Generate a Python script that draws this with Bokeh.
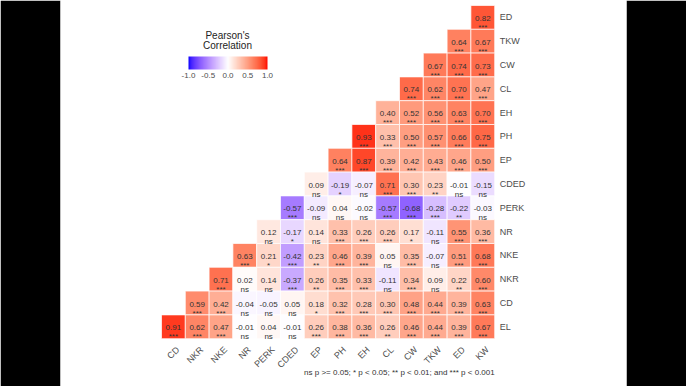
import math
import numpy as np
from bokeh.plotting import figure
from bokeh.models import (ColumnDataSource, LinearColorMapper, ColorBar, FixedTicker,
                          PrintfTickFormatter, Label, Range1d)
from bokeh.embed import file_html
from bokeh.resources import INLINE
from bokeh.core.properties import value

# ---------------- data ----------------
col_vars = ["CD", "NKR", "NKE", "NR", "PERK", "CDED", "EP", "PH", "EH", "CL", "CW", "TKW", "ED", "KW"]
row_vars = ["ED", "TKW", "CW", "CL", "EH", "PH", "EP", "CDED", "PERK", "NR", "NKE", "NKR", "CD", "EL"]  # top -> bottom

# each row lists its values left->right over the last len(values) columns
r_ED = [0.82]
s_ED = ["***"]
r_TKW = [0.64, 0.67]
s_TKW = ["***", "***"]
r_CW = [0.67, 0.74, 0.73]
s_CW = ["***", "***", "***"]
r_CL = [0.74, 0.62, 0.70, 0.47]
s_CL = ["***", "***", "***", "***"]
r_EH = [0.40, 0.52, 0.56, 0.63, 0.70]
s_EH = ["***", "***", "***", "***", "***"]
r_PH = [0.93, 0.33, 0.50, 0.57, 0.66, 0.75]
s_PH = ["***", "***", "***", "***", "***", "***"]
r_EP = [0.64, 0.87, 0.39, 0.42, 0.43, 0.46, 0.50]
s_EP = ["***", "***", "***", "***", "***", "***", "***"]
r_CDED = [0.09, -0.19, -0.07, 0.71, 0.30, 0.23, -0.01, -0.15]
s_CDED = ["ns", "*", "ns", "***", "***", "**", "ns", "ns"]
r_PERK = [-0.57, -0.09, 0.04, -0.02, -0.57, -0.68, -0.28, -0.22, -0.03]
s_PERK = ["***", "ns", "ns", "ns", "***", "***", "***", "**", "ns"]
r_NR = [0.12, -0.17, 0.14, 0.33, 0.26, 0.26, 0.17, -0.11, 0.55, 0.36]
s_NR = ["ns", "*", "ns", "***", "***", "***", "*", "ns", "***", "***"]
r_NKE = [0.63, 0.21, -0.42, 0.23, 0.46, 0.39, 0.05, 0.35, -0.07, 0.51, 0.68]
s_NKE = ["***", "*", "***", "**", "***", "***", "ns", "***", "ns", "***", "***"]
r_NKR = [0.71, 0.02, 0.14, -0.37, 0.26, 0.35, 0.33, -0.11, 0.34, 0.09, 0.22, 0.60]
s_NKR = ["***", "ns", "ns", "***", "**", "***", "***", "ns", "***", "ns", "**", "***"]
r_CD = [0.59, 0.42, -0.04, -0.05, 0.05, 0.18, 0.32, 0.28, 0.30, 0.48, 0.44, 0.39, 0.63]
s_CD = ["***", "***", "ns", "ns", "ns", "*", "***", "***", "***", "***", "***", "***", "***"]
r_EL = [0.91, 0.62, 0.47, -0.01, 0.04, -0.01, 0.26, 0.38, 0.36, 0.26, 0.46, 0.44, 0.39, 0.67]
s_EL = ["***", "***", "***", "ns", "ns", "ns", "***", "***", "***", "**", "***", "***", "***", "***"]

row_values = {"ED": r_ED, "TKW": r_TKW, "CW": r_CW, "CL": r_CL, "EH": r_EH, "PH": r_PH, "EP": r_EP,
              "CDED": r_CDED, "PERK": r_PERK, "NR": r_NR, "NKE": r_NKE, "NKR": r_NKR, "CD": r_CD, "EL": r_EL}
row_sig = {"ED": s_ED, "TKW": s_TKW, "CW": s_CW, "CL": s_CL, "EH": s_EH, "PH": s_PH, "EP": s_EP,
           "CDED": s_CDED, "PERK": s_PERK, "NR": s_NR, "NKE": s_NKE, "NKR": s_NKR, "CD": s_CD, "EL": s_EL}

cbar_ticks = [-1.0, -0.5, 0.0, 0.5, 1.0]
legend_title = ["Pearson's", "Correlation"]
footnote = "ns p >= 0.05; * p < 0.05; ** p < 0.01; and *** p < 0.001"

# ---------------- colour (Lab interpolation like ggplot gradient2) ----------------
_M = np.array([[0.4124564, 0.3575761, 0.1804375],
               [0.2126729, 0.7151522, 0.0721750],
               [0.0193339, 0.1191920, 0.9503041]])
_W = np.array([0.95047, 1.0, 1.08883])
_d = 6 / 29


def hex_to_lab(h):
    rgb = np.array([int(h[i:i + 2], 16) for i in (1, 3, 5)]) / 255.0
    lin = np.where(rgb <= 0.04045, rgb / 12.92, ((rgb + 0.055) / 1.055) ** 2.4)
    xyz = _M @ lin / _W
    f = np.where(xyz > _d ** 3, np.cbrt(xyz), xyz / (3 * _d ** 2) + 4 / 29)
    return np.array([116 * f[1] - 16, 500 * (f[0] - f[1]), 200 * (f[1] - f[2])])


def lab_to_hex(lab):
    L, a, b = lab
    fy = (L + 16) / 116
    f = np.array([fy + a / 500, fy, fy - b / 200])
    xyz = np.where(f > _d, f ** 3, 3 * _d ** 2 * (f - 4 / 29)) * _W
    lin = np.clip(np.linalg.solve(_M, xyz), 0, 1)
    rgb = np.where(lin <= 0.0031308, 12.92 * lin, 1.055 * lin ** (1 / 2.4) - 0.055)
    rgb = np.clip(np.round(rgb * 255), 0, 255).astype(int)
    return "#%02x%02x%02x" % tuple(rgb)


LAB_LOW, LAB_MID, LAB_HIGH = hex_to_lab("#0000ff"), hex_to_lab("#ffffff"), hex_to_lab("#ff0000")


def corr_color(v):
    if v >= 0:
        return lab_to_hex(LAB_MID + (LAB_HIGH - LAB_MID) * v)
    return lab_to_hex(LAB_MID + (LAB_LOW - LAB_MID) * (-v))


# ---------------- table of cells ----------------
ncol, nrow = len(col_vars), len(row_vars)
xs, ys, labs, sigs, cols = [], [], [], [], []
for rname in row_vars:
    rv, rs = row_values[rname], row_sig[rname]
    start = ncol - len(rv)
    for k, (v, s) in enumerate(zip(rv, rs)):
        xs.append(start + k + 0.5)
        ys.append(nrow - 1 - row_vars.index(rname) + 0.5)
        labs.append(f"{v:.2f}")
        sigs.append(s)
        cols.append(corr_color(v))
src = ColumnDataSource(dict(x=xs, y=ys, lab=labs, sig=sigs, color=cols))

xlab_src = ColumnDataSource(dict(x=[i + 0.5 for i in range(ncol)], y=[0] * ncol, t=col_vars))
ylab_src = ColumnDataSource(dict(x=[ncol] * nrow, y=[nrow - 1 - i + 0.5 for i in range(nrow)], t=row_vars))

# ---------------- layout (pixels) ----------------
W, H = 686, 386
LEFT_BAR, RIGHT_BAR = 60, 60
FRAME_W, FRAME_H = W - LEFT_BAR - RIGHT_BAR, H
CELL = 23.8
GRID_LEFT, GRID_TOP = 101, 5
x_start = -GRID_LEFT / CELL
y_end = nrow + GRID_TOP / CELL

FONT = "Liberation Sans"

p = figure(width=W, height=H,
           x_range=Range1d(x_start, x_start + FRAME_W / CELL),
           y_range=Range1d(y_end - FRAME_H / CELL, y_end),
           x_axis_location=None, y_axis_location=None,
           min_border_left=LEFT_BAR, min_border_right=RIGHT_BAR, min_border_top=0, min_border_bottom=0,
           toolbar_location=None, output_backend="svg",
           background_fill_color="white", border_fill_color="black", outline_line_color=None)
p.grid.visible = False

p.rect(x="x", y="y", width=1, height=1, source=src, fill_color="color",
       line_color="white", line_width=0.7)
p.text(x="x", y="y", text="lab", source=src, text_font=value(FONT), text_font_size="8px",
       text_color="#333333", text_align="center", text_baseline="alphabetic", y_offset=1)
p.text(x="x", y="y", text="sig", source=src, text_font=value(FONT), text_font_size="8px",
       text_color="#333333", text_align="center", text_baseline="alphabetic", y_offset=10)

# axis labels
p.text(x="x", y="y", text="t", source=ylab_src, text_font=value(FONT), text_font_size="9px",
       text_color="#4d4d4d", text_align="left", text_baseline="middle", x_offset=5)
p.text(x="x", y="y", text="t", source=xlab_src, text_font=value(FONT), text_font_size="9px",
       text_color="#4d4d4d", text_align="right", text_baseline="top", angle=math.pi / 4,
       x_offset=1, y_offset=6)

# colour bar legend (screen coords measured from the frame's bottom-left)
mapper = LinearColorMapper(palette=[corr_color(t) for t in np.linspace(-1, 1, 256)], low=-1, high=1)
cbar = ColorBar(color_mapper=mapper, orientation="horizontal", width=79, height=13,
                location=(128, FRAME_H - 80), padding=0, margin=0,
                ticker=FixedTicker(ticks=cbar_ticks), formatter=PrintfTickFormatter(format="%.1f"),
                major_label_text_font=FONT, major_label_text_font_size="8px",
                major_label_text_color="#4d4d4d", label_standoff=3,
                major_tick_line_color=None, bar_line_color=None, border_line_color=None,
                background_fill_alpha=0)
p.add_layout(cbar)

p.add_layout(Label(x=167, y=FRAME_H - 35, x_units="screen", y_units="screen", text=legend_title[0],
                   text_font=FONT, text_font_size="10px", text_color="#222222",
                   text_align="center", text_baseline="middle"))
p.add_layout(Label(x=167, y=FRAME_H - 45, x_units="screen", y_units="screen", text=legend_title[1],
                   text_font=FONT, text_font_size="10px", text_color="#222222",
                   text_align="center", text_baseline="middle"))
p.add_layout(Label(x=GRID_LEFT + ncol * CELL, y=FRAME_H - 372, x_units="screen", y_units="screen",
                   text=footnote, text_font=FONT, text_font_size="8px", text_color="#333333",
                   text_align="right", text_baseline="middle"))

open("out.html", "w").write(file_html(p, INLINE))
